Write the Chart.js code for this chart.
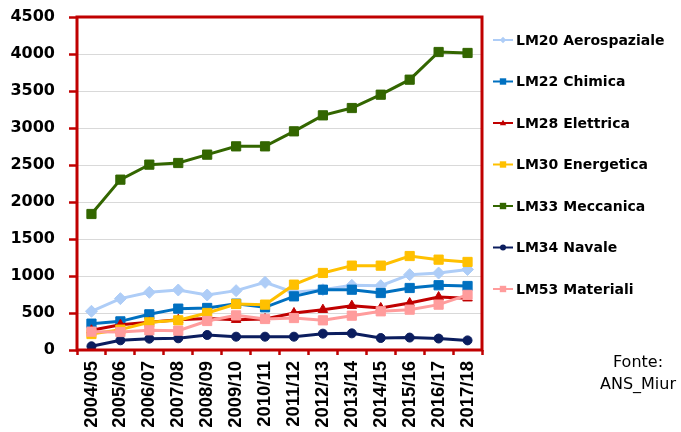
<!DOCTYPE html>
<html>
<head>
<meta charset="utf-8">
<script src="https://cdn.jsdelivr.net/npm/chart.js@4.4.1/dist/chart.umd.min.js"></script>
<style>
html,body{margin:0;padding:0;background:#fff;}
canvas{display:block;}
</style>
</head>
<body>
<canvas id="c" width="681" height="432"></canvas>
<script>
const categories = ['2004/05','2005/06','2006/07','2007/08','2008/09','2009/10','2010/11','2011/12','2012/13','2013/14','2014/15','2015/16','2016/17','2017/18'];
const yTicks = [0,500,1000,1500,2000,2500,3000,3500,4000,4500];
const seriesNames = ['LM20 Aerospaziale','LM22 Chimica','LM28 Elettrica','LM30 Energetica','LM33 Meccanica','LM34 Navale','LM53 Materiali'];
const aerospaziale = [523, 694, 779, 811, 743, 802, 914, 779, 815, 874, 869, 1018, 1040, 1088];
const chimica      = [356, 387, 482, 559, 568, 626, 577, 725, 815, 815, 770, 838, 875, 865];
const elettrica    = [266, 342, 374, 410, 425, 410, 419, 500, 545, 599, 568, 635, 716, 700];
const energetica   = [216, 275, 374, 401, 500, 622, 613, 883, 1041, 1140, 1140, 1270, 1221, 1190];
const meccanica    = [1838, 2302, 2505, 2527, 2640, 2752, 2752, 2955, 3171, 3270, 3450, 3653, 4027, 4014];
const navale       = [50, 131, 153, 158, 203, 180, 180, 180, 221, 225, 162, 168, 155, 130];
const materiali    = [248, 243, 266, 261, 392, 468, 419, 432, 401, 464, 523, 545, 613, 745];

const colors = ['#AECDF7','#0070C0','#C00000','#FFC000','#336600','#0B1D5E','#FF9C9C'];
const styles = ['rectRot','rect','triangle','rect','rect','circle','rect'];
const radii  = [6, 6.5, 5.5, 6.5, 6.5, 4.5, 6.5];
const values = [aerospaziale, chimica, elettrica, energetica, meccanica, navale, materiali];

const RED = '#C00000';
const comic = "'Comic Sans MS', 'DejaVu Sans', sans-serif";

const datasets = values.map((v, i) => ({
  label: seriesNames[i],
  data: v,
  borderColor: colors[i],
  backgroundColor: colors[i],
  pointBackgroundColor: colors[i],
  pointBorderColor: colors[i],
  borderWidth: 3,
  pointStyle: styles[i],
  pointRadius: radii[i],
  pointBorderWidth: 1,
  tension: 0,
  order: 10 - i
}));

function marker(ctx, style, x, y, r, color) {
  ctx.save();
  ctx.fillStyle = color;
  ctx.beginPath();
  if (style === 'rect') {
    ctx.rect(x - r, y - r, 2 * r, 2 * r);
  } else if (style === 'rectRot') {
    ctx.moveTo(x, y - r); ctx.lineTo(x + r, y); ctx.lineTo(x, y + r); ctx.lineTo(x - r, y); ctx.closePath();
  } else if (style === 'triangle') {
    ctx.moveTo(x, y - r); ctx.lineTo(x + r, y + r * 0.7); ctx.lineTo(x - r, y + r * 0.7); ctx.closePath();
  } else {
    ctx.arc(x, y, r, 0, Math.PI * 2);
  }
  ctx.fill();
  ctx.restore();
}

const decor = {
  id: 'decor',
  afterDraw(chart) {
    const ctx = chart.ctx;
    const a = chart.chartArea;
    ctx.save();
    ctx.strokeStyle = RED;
    ctx.lineWidth = 3;
    ctx.strokeRect(a.left, a.top, a.right - a.left, a.bottom - a.top);
    chart.data.datasets.forEach((ds, i) => {
      const y = 40 + 41.5 * i;
      ctx.strokeStyle = ds.borderColor;
      ctx.lineWidth = 2;
      ctx.beginPath();
      ctx.moveTo(493, y); ctx.lineTo(513, y); ctx.stroke();
      marker(ctx, ds.pointStyle, 503, y, ds.pointStyle === 'circle' ? 3 : 3.2, ds.borderColor);
      ctx.fillStyle = '#000';
      ctx.font = "bold 14px " + comic;
      ctx.textAlign = 'left';
      ctx.textBaseline = 'middle';
      ctx.fillText(ds.label, 516, y + 1);
    });
    ctx.font = "16px " + comic;
    ctx.textAlign = 'center';
    ctx.fillStyle = '#000';
    ctx.fillText('Fonte:', 638, 363);
    ctx.fillText('ANS_Miur', 638, 385);
    ctx.restore();
  }
};

new Chart(document.getElementById('c'), {
  type: 'line',
  data: { labels: categories, datasets },
  options: {
    responsive: false,
    devicePixelRatio: 1,
    animation: false,
    layout: { padding: { left: 10, top: 17, right: 199, bottom: 0 } },
    plugins: { legend: { display: false }, tooltip: { enabled: false } },
    scales: {
      x: {
        offset: true,
        border: { display: false },
        afterFit(scale) { scale.height = 82; scale.paddingLeft = 0; },
        grid: { display: true, offset: true, drawOnChartArea: false, tickLength: 5, tickColor: RED, tickWidth: 2.5 },
        ticks: { color: '#000', font: { family: "'Liberation Sans', Arial, sans-serif", size: 18.5, weight: 'bold' }, minRotation: 90, maxRotation: 90, padding: 6, autoSkip: false }
      },
      y: {
        min: 0, max: 4500,
        afterBuildTicks(scale) { scale.ticks = yTicks.map(v => ({ value: v })); },
        afterFit(scale) { scale.width = 67; scale.paddingTop = 0; scale.paddingBottom = 0; },
        border: { display: false },
        grid: { color: '#D9D9D9', lineWidth: 1, tickLength: 8, tickColor: RED, tickWidth: 2.5 },
        ticks: { color: '#000', font: { family: comic, size: 16, weight: 'bold' }, padding: 14, callback: v => String(v) }
      }
    }
  },
  plugins: [decor]
});
</script>
</body>
</html>
